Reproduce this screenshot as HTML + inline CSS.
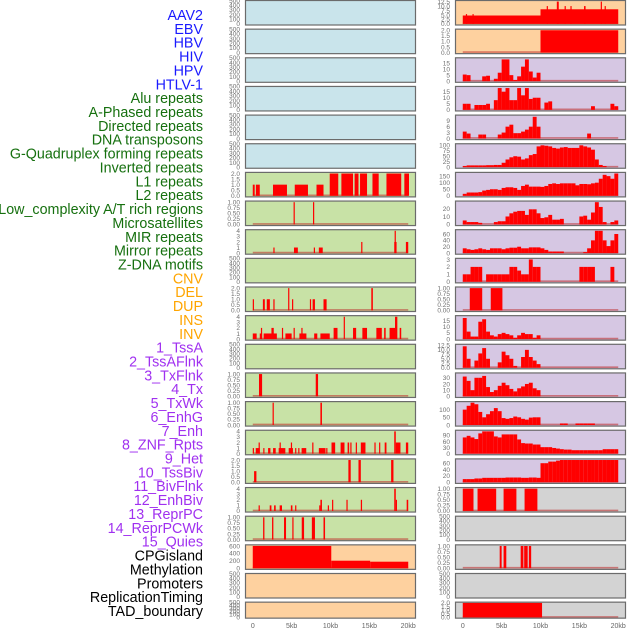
<!DOCTYPE html>
<html><head><meta charset="utf-8">
<style>
html,body{margin:0;padding:0;background:#fff;}
svg{display:block;font-family:"Liberation Sans",sans-serif;}
</style></head>
<body>
<svg id="chart" width="630" height="630" viewBox="0 0 630 630" xmlns="http://www.w3.org/2000/svg"></svg>
<script>
// ---- labels ----
const trackLabels = ["AAV2","EBV","HBV","HIV","HPV","HTLV-1","Alu repeats","A-Phased repeats","Directed repeats","DNA transposons","G-Quadruplex forming repeats","Inverted repeats","L1 repeats","L2 repeats","Low_complexity A/T rich regions","Microsatellites","MIR repeats","Mirror repeats","Z-DNA motifs","CNV","DEL","DUP","INS","INV","1_TssA","2_TssAFlnk","3_TxFlnk","4_Tx","5_TxWk","6_EnhG","7_Enh","8_ZNF_Rpts","9_Het","10_TssBiv","11_BivFlnk","12_EnhBiv","13_ReprPC","14_ReprPCWk","15_Quies","CPGisland","Methylation","Promoters","ReplicationTiming","TAD_boundary"];
const labelGroups = [6,13,5,15,5];
const groupColors = ["#1a1aff","#16700f","#ffa500","#a030f0","#000000"];
const xTicks = [0,5,10,15,20];
const xTickLabels = ["0","5kb","10kb","15kb","20kb"];

// ---- left column segment data [startKb, endKb, value] ----
const L6 = [[0,0.25,1],[0.4,0.9,1],[2.6,4.4,1],[5.4,7.1,1],[8.2,9.1,1],[9.9,11.0,2],[11.4,12.9,2],[13.1,13.6,2],[13.8,14.7,2],[15.4,16.2,2],[17.2,19.1,2],[19.5,20.1,2]];
const L7 = [[5.25,5.4,1],[7.75,7.9,1]];
const L8 = [[2.65,2.8,1],[5.3,5.8,1],[7.85,8.0,1],[8.5,9.0,1],[13.95,14.1,2],[18.2,18.5,2],[18.25,18.35,4],[19.7,20,2]];
const L10 = [[0,0.15,1],[1.3,1.55,1],[1.8,2.2,1],[2.65,2.8,1],[4.55,4.7,2],[5.05,5.2,1],[7.35,7.5,1],[7.7,8.0,1],[9.1,9.5,1],[15.25,15.45,2]];
const L11 = [[0,0.5,1],[0.9,1.2,1],[1.05,1.15,2],[1.4,3.1,1],[2.4,2.7,2],[3.75,3.9,2],[4.2,5.0,1],[5.25,5.4,2],[6.0,6.9,1],[6.25,6.4,2],[7.9,8.3,1],[8.7,9.9,1],[10.4,10.9,2],[11.7,11.85,4],[12.9,13.3,2],[14.1,14.7,2],[15.9,16.6,2],[16.9,17.1,2],[17.6,18.3,2],[18.3,18.6,4],[18.9,19.1,2]];
const L13 = [[0.8,1.2,1],[8.1,8.4,1]];
const L14 = [[2.55,2.7,1],[8.7,8.9,1]];
const L15 = [[0,0.1,1],[0.38,0.9,1],[0.75,0.88,2],[1.35,1.5,1],[1.97,2.27,1],[2.61,2.95,1],[3.33,4.19,1],[3.45,3.58,2],[4.62,5.17,1],[4.9,5.03,2],[5.45,5.58,1],[5.85,5.98,1],[6.28,6.88,1],[7.65,7.8,2],[8.5,9.36,1],[9.45,9.58,1],[10.13,10.6,2],[11.3,11.8,2],[12.2,12.4,2],[12.55,12.7,2],[13.25,13.4,2],[13.9,14.5,2],[15.65,15.8,2],[16.25,16.4,2],[16.97,17.2,2],[18.2,18.4,4],[18.4,19.0,2],[19.7,20,2]];
const L16 = [[0.17,0.47,1],[12.3,12.6,2],[13.6,13.9,2],[17.8,18.1,2]];
const L17 = [[0.75,0.88,1],[2.18,2.4,1],[2.74,2.95,1],[3.46,3.76,1],[4.9,5.1,1],[5.45,5.58,1],[8.55,8.7,1],[8.7,8.9,2],[9.65,9.78,1],[10.2,10.34,2],[12.05,12.2,2],[13.9,14.06,2],[18.2,18.4,4],[18.4,18.5,2],[19.8,20,2]];
const L18 = [[1.33,1.5,1],[2.48,2.65,1],[4.02,4.28,1],[5.09,5.21,1],[6.3,6.6,1],[7.6,8.0,1],[9.1,9.3,1]];
const L19 = [[0,10.1,600],[10.1,15.1,203],[15.1,20,176]];

// ---- right column data: segments and 0.5kb bins ----
const R0 = [[0,10,4.7],[0.4,0.55,5.5],[1.25,1.4,5.5],[10,20,8.2],[10.8,10.95,10],[12.1,12.35,12.5],[13.1,13.25,10],[13.85,14.0,10],[15.6,15.8,10],[17.75,17.9,12.5],[18.25,18.4,10]];
const R1 = [[10,20,2]];
const R2 = [5.5,5,0,0,0,4,4.5,0,2,7,18,18,5,1,4,12,18,8,3,7,0,0,0,0,0,0,0,0,0,0,0,0,0,0,0,0,0,0,0,0];
const R3 = [5,5,0,4,4,4,5,0,8,18,15,18,8,8,18,12,18,9,10,10,0,6,7,0,0,0,0,0,0,0,0,0,0,3,0,0,0,0,5,3];
const R4 = [3.5,2.5,0,0,2,2,0,0,0,2,3,6,7,2.7,2.7,3.5,4.5,6,11,6,0,0,0,0,0,0,0,0,0,0,0,0,2.5,0,0,0,0,0,0,0];
const R5 = [5,8,8,8,8,8,9,9,10,10,20,35,45,50,48,35,40,55,60,95,100,98,95,88,85,90,92,88,88,88,100,95,90,80,35,10,5,0,0,0];
const R6 = [15,25,25,25,28,40,45,50,50,45,60,65,65,60,45,75,85,70,70,70,68,75,90,95,90,95,95,95,95,80,90,90,88,95,100,130,160,150,130,170];
const R7 = [5,3,3,3,2,0,0,0,3,4,4,10,14,16,17,17,12,19,19,14,8,9,12,6,6,7,0,0,0,0,10,11,6,15,28,22,3,0,3,5];
const R8 = [15,12,10,12,15,12,10,15,15,15,12,15,17,17,20,15,15,18,18,18,15,10,5,5,5,5,0,0,0,0,0,3,15,40,70,70,40,22,40,60];
const R9 = [1,1,2,2,2,0,1,1,1,1,1,1,2,2,1.5,1,1,3,2,2,0,0,0,0,0,0,0,0,0,0,2,2,2,2,0,0,0,0,2,0];
const R10 = [[0.9,2.5,1],[3.6,5.1,1]];
const R11 = [17,6,2,2,14,16,6,3,2,4,5,4,3,1,3,5,4,4,1,3,0,0,0,0,0,0,0,0,0,0,0,0,0,0,0,0,0,0,0,0];
const R12 = [12,5,0,4,8,11,5,0,0,3,9,7,5,1,0,6,10,6,4,2,0,0,0,0,0,0,0,0,0,0,0,0,0,0,0,0,0,0,0,0];
const R13 = [32,25,10,30,30,33,15,7,10,17,22,18,12,8,13,16,20,22,13,10,0,0,0,0,0,0,0,0,0,0,0,0,0,0,0,0,0,0,0,0];
const R14 = [100,125,145,135,85,50,70,90,110,90,45,40,45,55,50,40,35,48,50,50,0,0,0,0,0,10,10,0,0,10,10,10,10,10,0,0,0,0,0,0];
const R15 = [80,88,80,72,100,110,110,110,85,80,95,95,95,95,70,52,50,50,45,45,32,32,32,28,25,22,20,20,17,17,17,17,17,17,17,17,22,22,22,22];
const R16 = [10,10,10,12,12,14,14,14,14,14,14,15,15,15,15,14,14,15,15,14,60,60,65,65,68,70,70,70,70,70,70,70,70,70,70,70,70,70,70,70];
const R17 = [[0,1.38,1],[1.9,4.3,1],[5.25,6.9,1],[7.95,9.6,1]];
const R19 = [[4.75,5.0,1],[5.25,5.6,1],[7.45,7.8,1],[7.9,8.35,1],[8.5,8.8,1]];
const R21 = [[0,10.2,2]];

const BG = {b:"#c9e4eb",g:"#c8e2a6",o:"#fed19f",p:"#d6c7e3",y:"#d3d3d3"};
const T500 = {max:476, ticks:[0,100,200,300,400,500], fmt:0};
const T1 = {max:1, ticks:[0,0.25,0.5,0.75,1], fmt:2};
const T2 = {max:2, ticks:[0,0.5,1,1.5,2], fmt:1};
const T4 = {max:4, ticks:[0,1,2,3,4], fmt:0};
const T12 = {max:12.5, ticks:[0,2.5,5,7.5,10,12.5], fmt:1};

const panels = [];
for (let r=0;r<6;r++) panels.push({c:0,r:r,bg:"b",ax:T500,empty:true});
panels.push({c:0,r:6,bg:"g",ax:T2,segs:L6});
panels.push({c:0,r:7,bg:"g",ax:T1,segs:L7});
panels.push({c:0,r:8,bg:"g",ax:T4,segs:L8});
panels.push({c:0,r:9,bg:"g",ax:T500,empty:true});
panels.push({c:0,r:10,bg:"g",ax:T2,segs:L10});
panels.push({c:0,r:11,bg:"g",ax:T4,segs:L11});
panels.push({c:0,r:12,bg:"g",ax:T500,empty:true});
panels.push({c:0,r:13,bg:"g",ax:T1,segs:L13});
panels.push({c:0,r:14,bg:"g",ax:T1,segs:L14});
panels.push({c:0,r:15,bg:"g",ax:T4,segs:L15});
panels.push({c:0,r:16,bg:"g",ax:T2,segs:L16});
panels.push({c:0,r:17,bg:"g",ax:T4,segs:L17});
panels.push({c:0,r:18,bg:"g",ax:T1,segs:L18});
panels.push({c:0,r:19,bg:"o",ax:{max:600,ticks:[0,200,400,600],fmt:0},segs:L19});
panels.push({c:0,r:20,bg:"o",ax:T500,empty:true});
panels.push({c:0,r:21,bg:"o",ax:T500,empty:true});
panels.push({c:1,r:0,bg:"o",ax:T12,segs:R0});
panels.push({c:1,r:1,bg:"o",ax:T2,segs:R1});
panels.push({c:1,r:2,bg:"p",ax:{max:18.4,ticks:[0,5,10,15],fmt:0},bins:R2});
panels.push({c:1,r:3,bg:"p",ax:{max:18.4,ticks:[0,5,10,15],fmt:0},bins:R3});
panels.push({c:1,r:4,bg:"p",ax:{max:11.3,ticks:[0,3,6,9],fmt:0},bins:R4});
panels.push({c:1,r:5,bg:"p",ax:{max:102,ticks:[0,25,50,75,100],fmt:0},bins:R5});
panels.push({c:1,r:6,bg:"p",ax:{max:170,ticks:[0,50,100,150],fmt:0},bins:R6});
panels.push({c:1,r:7,bg:"p",ax:{max:28,ticks:[0,10,20],fmt:0},bins:R7});
panels.push({c:1,r:8,bg:"p",ax:{max:70,ticks:[0,20,40,60],fmt:0},bins:R8});
panels.push({c:1,r:9,bg:"p",ax:{max:3,ticks:[0,1,2,3],fmt:0},bins:R9});
panels.push({c:1,r:10,bg:"p",ax:T1,segs:R10});
panels.push({c:1,r:11,bg:"p",ax:{max:18,ticks:[0,5,10,15],fmt:0},bins:R11});
panels.push({c:1,r:12,bg:"p",ax:T12,bins:R12});
panels.push({c:1,r:13,bg:"p",ax:{max:36,ticks:[0,10,20,30],fmt:0},bins:R13});
panels.push({c:1,r:14,bg:"p",ax:{max:145,ticks:[0,50,100],fmt:0},bins:R14});
panels.push({c:1,r:15,bg:"p",ax:{max:110,ticks:[0,30,60,90],fmt:0},bins:R15});
panels.push({c:1,r:16,bg:"p",ax:{max:70,ticks:[0,20,40,60],fmt:0},bins:R16});
panels.push({c:1,r:17,bg:"y",ax:T1,segs:R17});
panels.push({c:1,r:18,bg:"y",ax:T500,empty:true});
panels.push({c:1,r:19,bg:"y",ax:T1,segs:R19});
panels.push({c:1,r:20,bg:"y",ax:T500,empty:true});
panels.push({c:1,r:21,bg:"y",ax:T2,segs:R21});

const NS="http://www.w3.org/2000/svg";
const svg=document.getElementById("chart");
function mk(tag,attrs,parent){const e=document.createElementNS(NS,tag);for(const k in attrs)e.setAttribute(k,attrs[k]);(parent||svg).appendChild(e);return e;}

let li=0;
labelGroups.forEach((n,g)=>{for(let k=0;k<n;k++){
  const t=mk("text",{x:203,y:(15+li*13.86+5).toFixed(1),"text-anchor":"end","font-size":"14.3",fill:groupColors[g]});
  t.textContent=trackLabels[li];
  
  
  li++;}});

const colLeft=[245,455], panelW=171;
function xScale(c,kb){return colLeft[c]+ (kb+1)/22*panelW;}

panels.forEach(p=>{
  const top=p.r*28.65+0.5, h=(p.r===21)?16:24.5;
  const g=mk("g",{});
  
  
  mk("rect",{x:colLeft[p.c],y:top,width:panelW,height:h,fill:BG[p.bg]},g);
  const M=p.ax.max, yMin=-0.05*M, yMax=1.05*M;
  const ys=v=>top+h-(v-yMin)/(yMax-yMin)*h;
  p.ax.ticks.forEach(tv=>{
    const t=mk("text",{x:colLeft[p.c]-5,y:(ys(tv)+2.3).toFixed(1),"text-anchor":"end","font-size":"6.5",fill:"#707070"},g);
    t.textContent=tv.toFixed(p.ax.fmt);
    
    
  });
  if(!p.empty){
    const base=mk("line",{x1:xScale(p.c,0),x2:xScale(p.c,20),y1:ys(0)-0.5,y2:ys(0)-0.5,stroke:"rgba(190,40,40,0.55)","stroke-width":1.6},g);
    
    
    const drawSeg=(s,e,v)=>{
      if(v<=0)return;
      let x0=xScale(p.c,s), x1=xScale(p.c,e);
      if(x1-x0<1.2)x1=x0+1.2;
      const r=mk("rect",{x:x0.toFixed(2),y:ys(v).toFixed(2),width:(x1-x0).toFixed(2),height:(ys(0)-ys(v)).toFixed(2),fill:"#ff0000"},g);
      
      
    };
    if(p.segs)p.segs.forEach(s=>drawSeg(s[0],s[1],s[2]));
    if(p.bins)p.bins.forEach((v,i)=>drawSeg(i*0.5,i*0.5+0.5,v));
  }
  mk("rect",{x:colLeft[p.c]+0.5,y:top,width:panelW-1,height:h,fill:"none",stroke:"#6b6b6b","stroke-width":1.2},g);
});

[0,1].forEach(c=>{xTicks.forEach((v,i)=>{
  const t=mk("text",{x:xScale(c,v).toFixed(1),y:628,"text-anchor":"middle","font-size":"7",fill:"#666"});
  t.textContent=xTickLabels[i];
  
  
});});
</script>
</body></html>
